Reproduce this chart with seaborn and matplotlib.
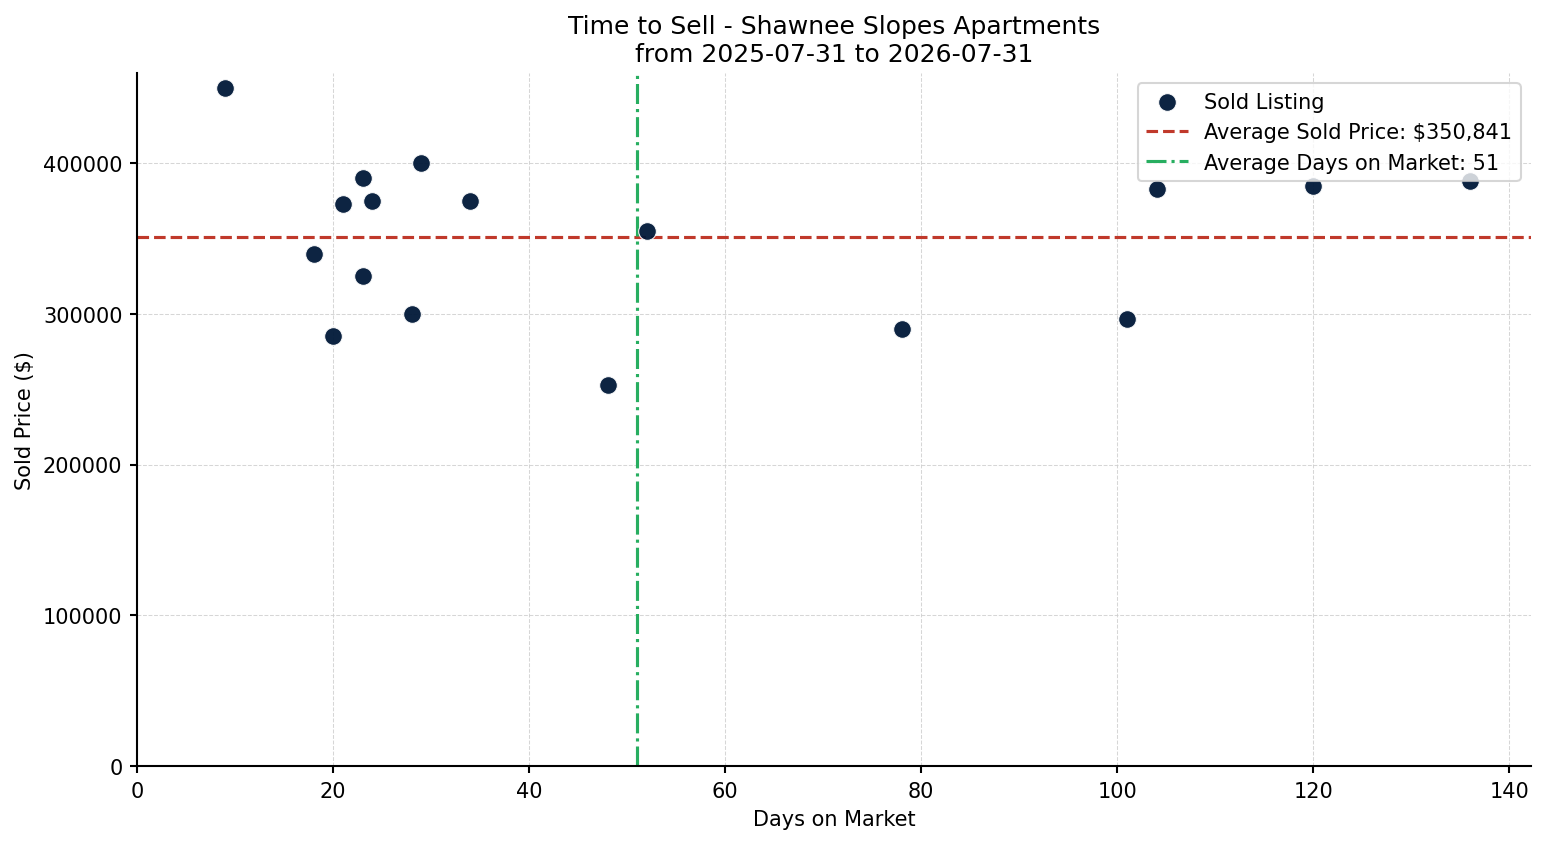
import matplotlib
matplotlib.use("Agg")
import matplotlib.pyplot as plt
import pandas as pd
import seaborn as sns

# sold listings
days_on_market = [9, 18, 20, 21, 23, 23, 24, 28, 29, 34, 48, 52, 78, 101, 104, 120, 136]
sold_price = [450000, 340000, 285000, 373000, 390000, 325000, 375000, 300000, 400000,
              375000, 253000, 355000, 290000, 296500, 383000, 385000, 388000]
avg_price = 350841
avg_days = 51

df = pd.DataFrame({"Days on Market": days_on_market, "Sold Price ($)": sold_price})

sns.set_style("ticks")
plt.rcParams.update({
    "text.color": "black", "axes.labelcolor": "black",
    "xtick.color": "black", "ytick.color": "black",
    "axes.edgecolor": "black", "axes.linewidth": 1.0,
    "font.size": 10,
})

fig, ax = plt.subplots(figsize=(10.313, 5.633), dpi=150)
fig.subplots_adjust(left=0.0886, right=0.9897, top=0.9124, bottom=0.0923)

sns.scatterplot(data=df, x="Days on Market", y="Sold Price ($)", ax=ax,
                color="#001838", s=72, edgecolor="white", linewidth=0.5,
                alpha=0.95, label="Sold Listing", zorder=3)
ax.axhline(avg_price, color="#c0392b", linestyle="--", linewidth=1.5,
           label=f"Average Sold Price: ${avg_price:,.0f}")
ax.axvline(avg_days, color="#27ae60", linestyle="-.", linewidth=1.5,
           label=f"Average Days on Market: {avg_days}")

ax.set_xlim(0, 142.2)
ax.set_ylim(0, 459700)
ax.grid(True, linestyle="--", linewidth=0.5, color="#cccccc", alpha=0.8)
ax.tick_params(axis="both", labelsize=10, length=3.5, width=1.0)
ax.set_xlabel("Days on Market", fontsize=10)
ax.set_ylabel("Sold Price ($)", fontsize=10)
ax.set_title("Time to Sell - Shawnee Slopes Apartments\nfrom 2025-07-31 to 2026-07-31", fontsize=12)
ax.legend(loc="upper right", fontsize=10, frameon=True)
sns.despine(ax=ax)

plt.savefig("out.png", dpi=150)
